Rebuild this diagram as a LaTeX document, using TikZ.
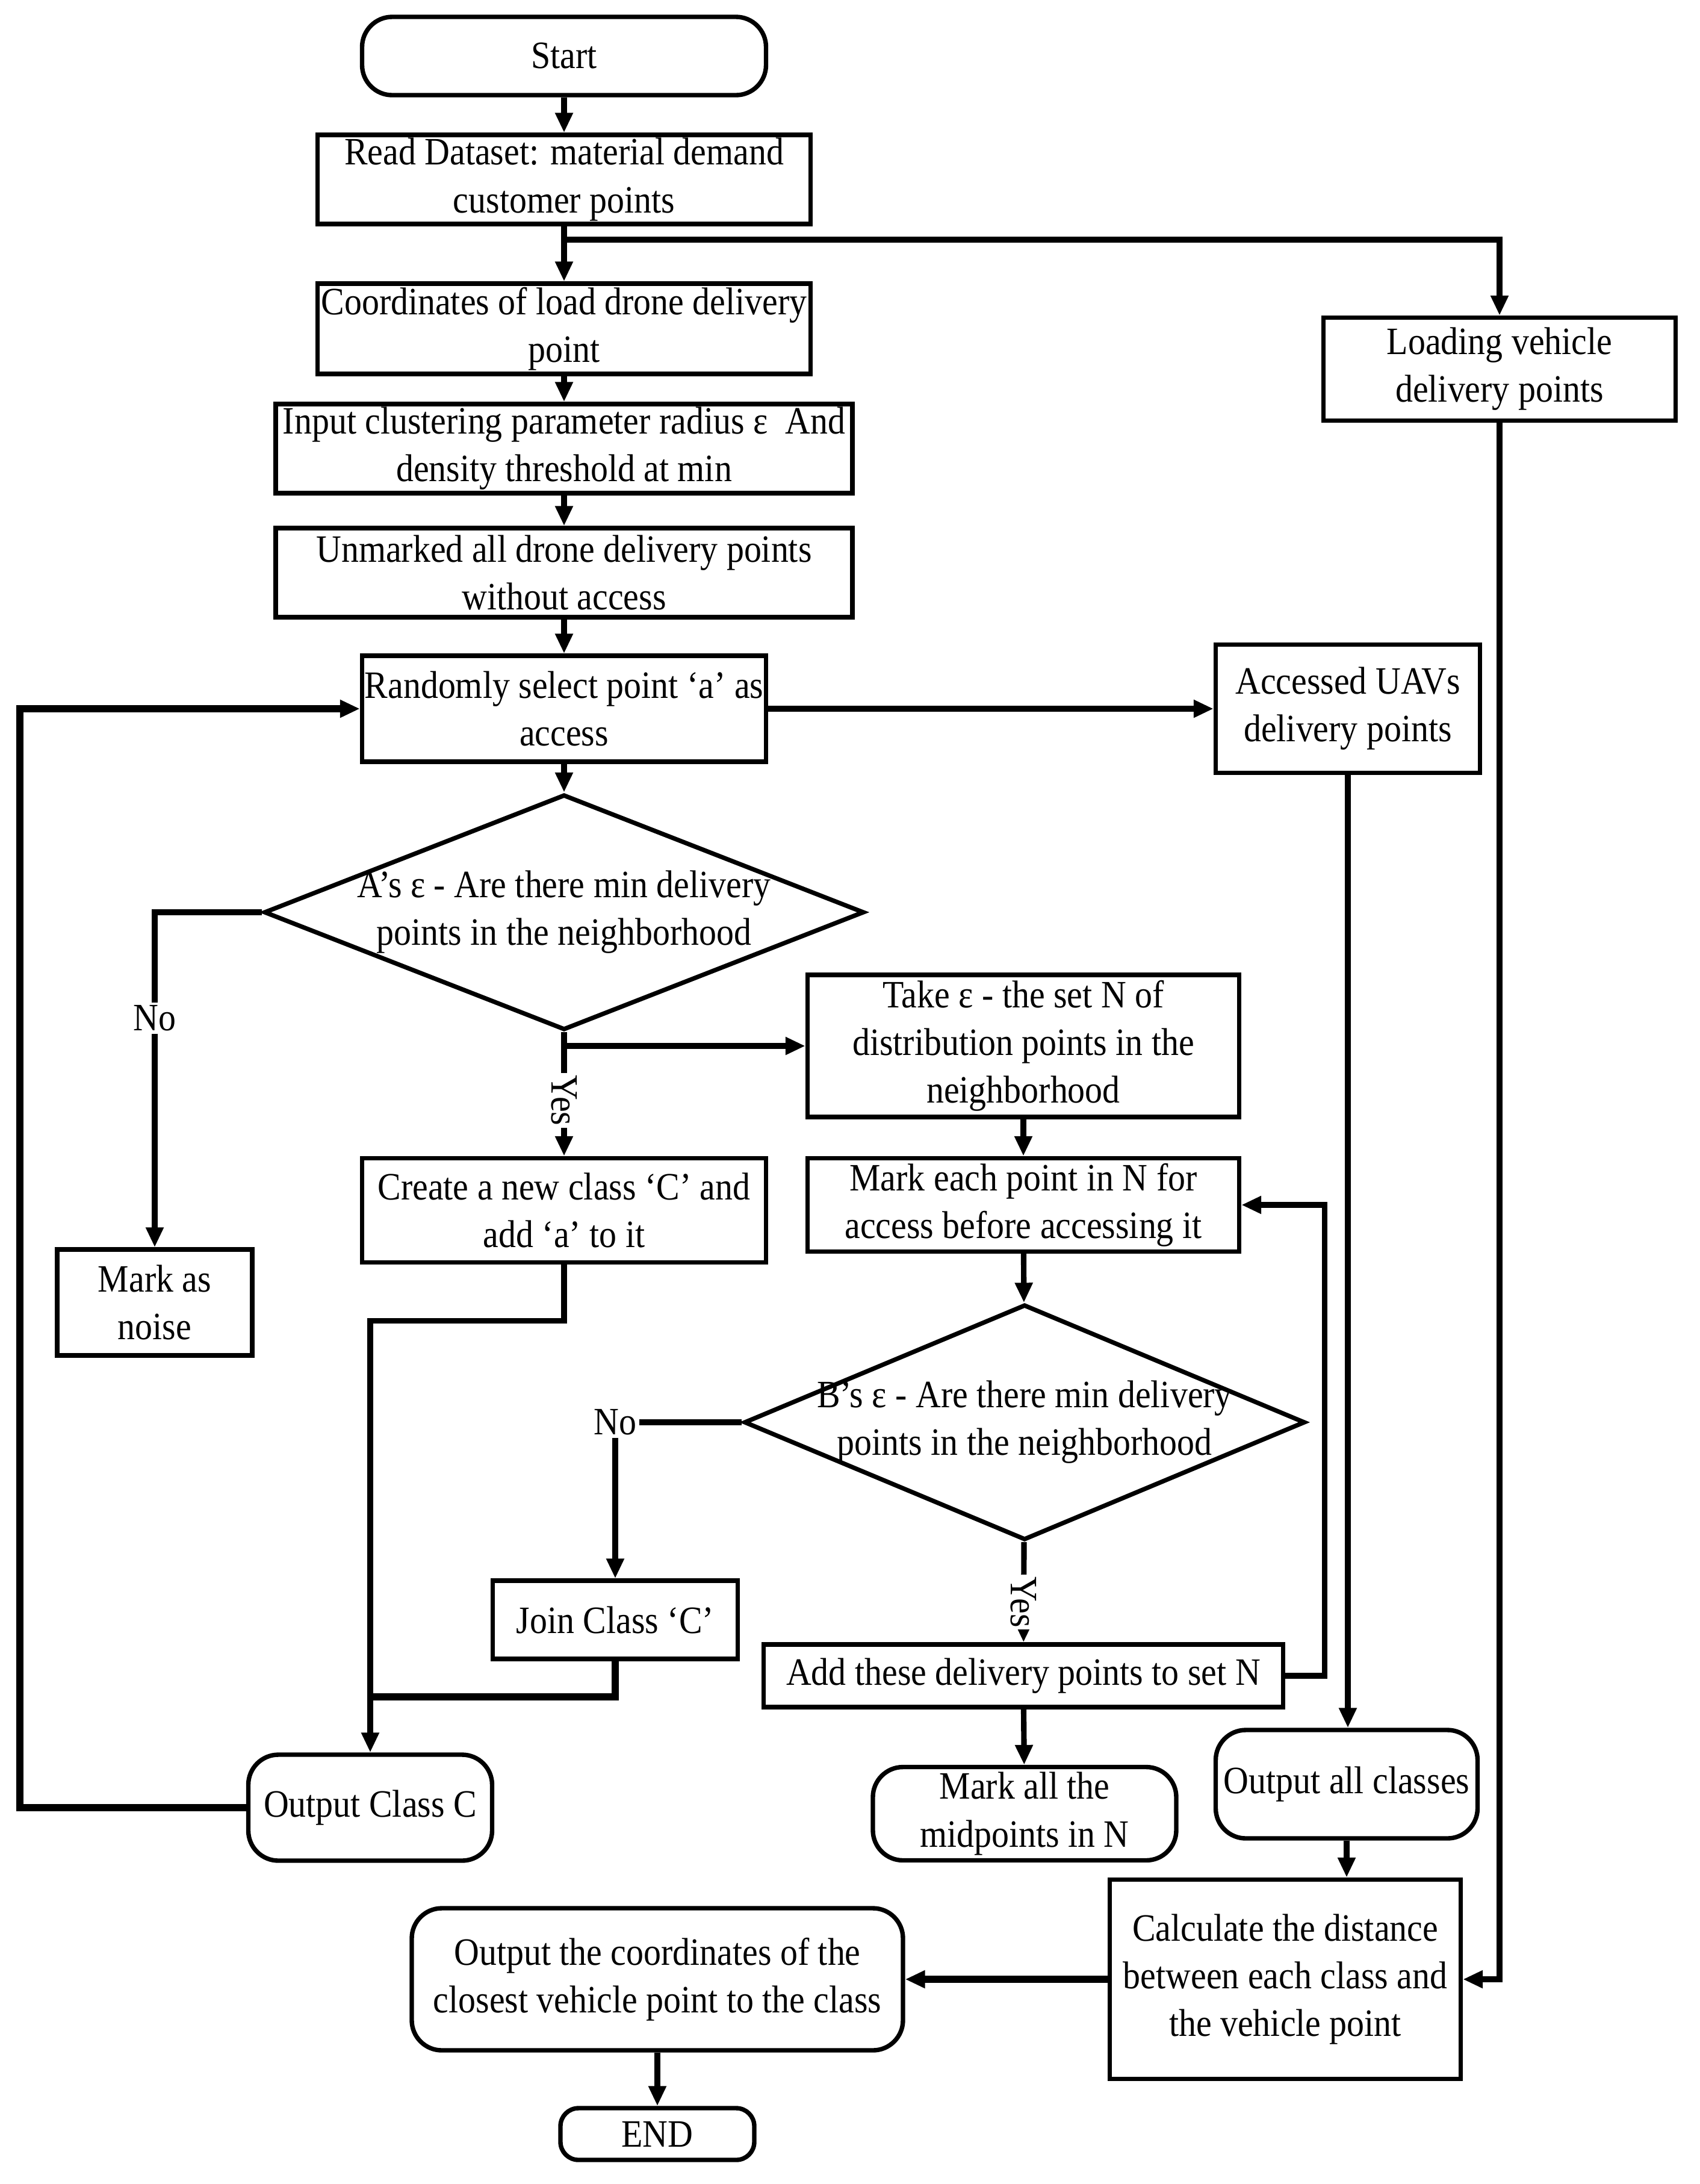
\documentclass[tikz,border=0pt]{standalone}
\usepackage{fontspec}
\setmainfont{Liberation Serif}[FakeStretch=0.90]
\usetikzlibrary{positioning,arrows.meta,calc,shapes.geometric}
\tikzset{
  proc/.style     = {draw, line width=2.1pt, align=center, inner sep=1pt},
  term/.style     = {draw, line width=2.1pt, rounded corners=5mm, align=center, inner sep=1pt},
  decision/.style = {draw, diamond, line width=2.1pt, inner sep=0pt},
  flow/.style     = {-{Triangle[length=3.3mm, width=2.8mm]}, line width=2.6pt},
  wire/.style     = {line width=2.6pt},
  heavy/.style    = {line width=3.4pt},
  yeslbl/.style   = {rotate=-90, fill=white, inner sep=1pt},
  nolbl/.style    = {inner sep=1pt},
}

\begin{document}
\begin{tikzpicture}[x=1cm, y=-1cm, font=\fontsize{18.3}{22.5}\selectfont]
\useasboundingbox (0,0) rectangle (28.24,36.27);

% --- main column --------------------------------------------------------
\node[term, minimum width=6.71cm, minimum height=1.30cm] (start) at (9.37,0.93) {Start};
\node[proc, minimum width=8.19cm, minimum height=1.48cm] (read) at (9.37,2.98)
  {Read Dataset: material demand\\customer points};
\node[proc, minimum width=8.19cm, minimum height=1.50cm] (coord) at (9.37,5.46)
  {Coordinates of load drone delivery\\point};
\node[proc, minimum width=9.58cm, minimum height=1.48cm] (param) at (9.37,7.45)
  {Input clustering parameter radius ε~ And\\density threshold at min};
\node[proc, minimum width=9.58cm, minimum height=1.48cm] (unmark) at (9.37,9.51)
  {Unmarked all drone delivery points\\without access};
\node[proc, minimum width=6.71cm, minimum height=1.76cm] (rand) at (9.37,11.77)
  {Randomly select point ‘a’ as\\access};
\node[decision, minimum width=9.97cm, minimum height=3.91cm,
  label={[align=center]center:A’s ε - Are there min delivery\\points in the neighborhood}]
  (adec) at (9.37,15.15) {};
\node[proc, minimum width=6.71cm, minimum height=1.73cm] (create) at (9.37,20.10)
  {Create a new class ‘C’ and\\add ‘a’ to it};
\node[proc, minimum width=3.24cm, minimum height=1.76cm] (noise) at (2.57,21.63)
  {Mark as\\noise};
\node[nolbl] (noA) at (2.57,16.91) {No};
\node[term, minimum width=4.05cm, minimum height=1.76cm] (outC) at (6.15,30.02)
  {Output Class C};

% --- neighbourhood expansion --------------------------------------------
\node[proc, minimum width=7.17cm, minimum height=2.36cm] (take) at (17.00,17.37)
  {Take ε - the set N of\\distribution points in the\\neighborhood};
\node[proc, minimum width=7.17cm, minimum height=1.55cm] (markN) at (17.00,20.01)
  {Mark each point in N for\\access before accessing it};
\node[decision, minimum width=9.32cm, minimum height=3.91cm,
  label={[align=center]center:B’s ε - Are there min delivery\\points in the neighborhood}]
  (bdec) at (17.02,23.62) {};
\node[nolbl] (noB) at (10.22,23.62) {No};
\node[proc, minimum width=4.07cm, minimum height=1.30cm] (join) at (10.22,26.90)
  {Join Class ‘C’};
\node[proc, minimum width=8.63cm, minimum height=1.04cm] (add) at (17.00,27.83)
  {Add these delivery points to set N};
\node[term, minimum width=5.04cm, minimum height=1.55cm] (midN) at (17.02,30.12)
  {Mark all the\\midpoints in N};

% --- right side and output ----------------------------------------------
\node[proc, minimum width=5.85cm, minimum height=1.71cm] (load) at (24.91,6.13)
  {Loading vehicle\\delivery points};
\node[proc, minimum width=4.39cm, minimum height=2.13cm] (uav) at (22.39,11.77)
  {Accessed UAVs\\delivery points};
\node[term, minimum width=4.35cm, minimum height=1.80cm] (outall) at (22.37,29.63)
  {Output all classes};
\node[proc, minimum width=5.83cm, minimum height=3.31cm] (calc) at (21.35,32.87)
  {Calculate the distance\\between each class and\\the vehicle point};
\node[term, minimum width=8.16cm, minimum height=2.36cm] (outxy) at (10.92,32.87)
  {Output the coordinates of the\\closest vehicle point to the class};
\node[term, rounded corners=3mm, minimum width=3.22cm, minimum height=0.86cm] (endn) at (10.92,35.44)
  {END};

% --- flows --------------------------------------------------------------
\draw[flow] (start) -- (read);
\draw[flow] (read) -- (coord);
\coordinate (split) at (9.37,3.98);
\draw[flow] (split) -| (load);
\draw[flow] (coord) -- (param);
\draw[flow] (param) -- (unmark);
\draw[flow] (unmark) -- (rand);
\draw[flow] (rand) -- (adec);
\draw[flow] (rand) -- (uav);
\draw[wire] (adec.west) -| (noA);
\draw[flow] (noA) -- (noise);
\draw[flow] (adec.south) -- node[yeslbl, pos=0.55] {Yes} (create);
\draw[flow] (adec.south |- take.west) -- (take.west);
\draw[flow] (take) -- (markN);
\draw[flow] (markN) -- (bdec);
\draw[wire] (bdec.west) -- (noB);
\draw[flow] (noB) -- (join);
\draw[flow] (bdec) -- node[yeslbl, pos=0.6] {Yes} (add);
\draw[flow] (add.east) -- ($(add.east)+(0.65,0)$) |- (markN.east);
\draw[flow] (add) -- (midN);
% class C gathered from both branches
\draw[flow] (create.south) -- ($(create.south)+(0,0.93)$) -| (outC.north);
\draw[heavy] (join.south) |- ($(outC.north)+(0,-0.92)$);
\draw[flow, heavy] (outC.west) -- ($(outC.west)+(-3.76,0)$) |- (rand.west);
% results
\draw[flow] (uav.south) -- (uav.south |- outall.north);
\draw[flow] (outall.south) -- (outall.south |- calc.north);
\draw[flow] (load) |- (calc.east);
\draw[flow, heavy] (calc) -- (outxy);
\draw[flow] (outxy) -- (endn);

\end{tikzpicture}
\end{document}
